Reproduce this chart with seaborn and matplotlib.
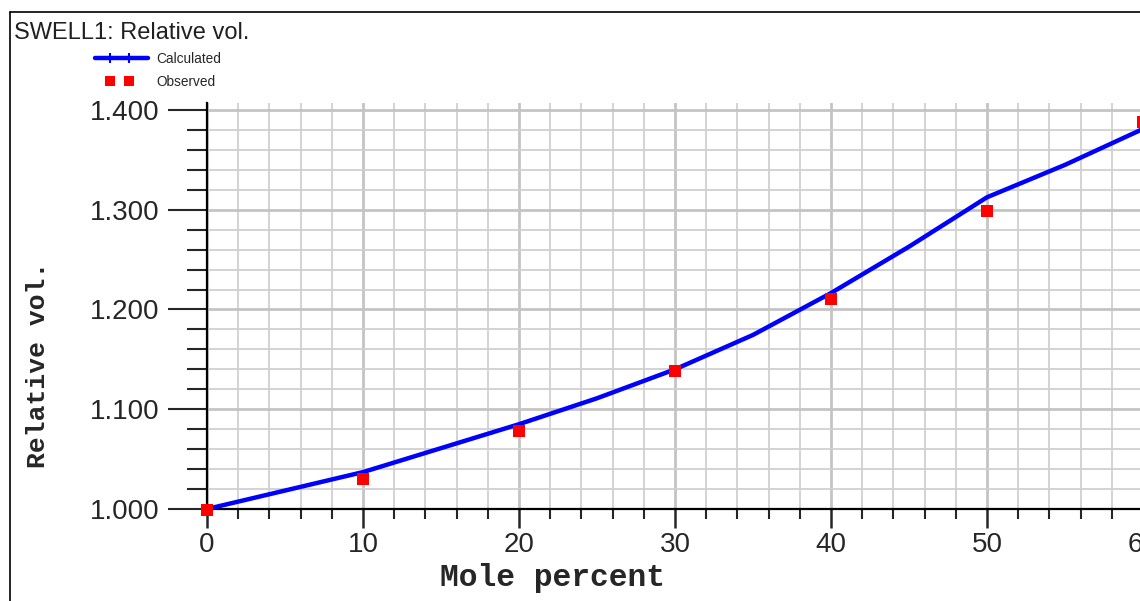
import numpy as np
import pandas as pd
import matplotlib
matplotlib.use("Agg")
import matplotlib.pyplot as plt
from matplotlib.lines import Line2D
from matplotlib.ticker import MultipleLocator, FormatStrFormatter
from matplotlib.legend_handler import HandlerLine2D
import seaborn as sns

# ---- data ----
title = "SWELL1: Relative vol."
calc_x = [0, 10, 20, 25, 30, 35, 40, 45, 50, 55, 60]
calc_y = [1.000, 1.037, 1.085, 1.111, 1.140, 1.1745, 1.2165, 1.263, 1.3125, 1.345, 1.381]
obs_x = [0, 10, 20, 30, 40, 50, 60]
obs_y = [0.999, 1.030, 1.078, 1.138, 1.211, 1.299, 1.388]
x_label = "Mole percent"
y_label = "Relative vol."

sns.set_style("white")
plt.rcParams['font.family'] = ['Liberation Sans', 'DejaVu Sans']

W, H = 1140, 601
fig = plt.figure(figsize=(W / 100, H / 100), dpi=100)
left, right, bottom, top = 207, 1143, 509, 103
ax = fig.add_axes([left / W, (H - bottom) / H, (right - left) / W, (bottom - top) / H])
ax.set_facecolor("white")

calc = pd.DataFrame({"x": calc_x, "y": calc_y})
obs = pd.DataFrame({"x": obs_x, "y": obs_y})

sns.lineplot(data=calc, x="x", y="y", ax=ax, color="#0000ff", lw=3.2,
             label="Calculated", zorder=3)
sns.lineplot(data=obs, x="x", y="y", ax=ax, color="#ff0000", linestyle="none",
             marker="s", markersize=8.7, markeredgewidth=0, markerfacecolor="#ff0000",
             label="Observed", zorder=4, clip_on=False)

ax.set_xlim(0, 60)
ax.set_ylim(1.0, 1.0 + (bottom - top) / 997.5)

ax.xaxis.set_major_locator(MultipleLocator(10))
ax.xaxis.set_minor_locator(MultipleLocator(2))
ax.yaxis.set_major_locator(MultipleLocator(0.1))
ax.yaxis.set_minor_locator(MultipleLocator(0.02))
ax.yaxis.set_major_formatter(FormatStrFormatter("%.3f"))

ax.grid(which="minor", color="#d0d0d0", lw=1.3, zorder=0)
ax.grid(which="major", color="#c4c4c4", lw=2.0, zorder=0)
ax.set_axisbelow(True)

for s in ["top", "right"]:
    ax.spines[s].set_visible(False)
for s in ["left", "bottom"]:
    ax.spines[s].set_linewidth(1.6)
    ax.spines[s].set_color("black")

ax.tick_params(axis="y", which="major", direction="out", length=28, width=1.5,
               labelsize=20, pad=6, left=True)
ax.tick_params(axis="y", which="minor", direction="out", length=14.5, width=1.5, left=True)
ax.tick_params(axis="x", which="major", direction="out", length=13.5, width=1.8,
               labelsize=20, pad=3, bottom=True)
ax.tick_params(axis="x", which="minor", direction="out", length=7, width=1.5, bottom=True)

ax.set_xlabel("")
ax.set_ylabel("")
lab_font = dict(family=["Liberation Mono", "DejaVu Sans Mono"], weight="bold")
fig.text(553 / W, 1 - 578 / H, x_label, ha="center", va="center", fontsize=22.5, **lab_font)
fig.text(38 / W, 1 - 365 / H, y_label, ha="center", va="center", rotation=90,
         fontsize=19, **lab_font)

fig.text(14 / W, 1 - 33 / H, title, ha="left", va="center", fontsize=17,
         color="#202020")


class PaddedMarkerHandler(HandlerLine2D):
    """Full-length line with two markers set in from the ends."""
    def create_artists(self, legend, orig_handle, xdescent, ydescent, width,
                       height, fontsize, trans):
        pad = 1.1 * fontsize
        x0 = -xdescent
        x1 = -xdescent + width
        xdata = [x0, x0 + pad, x1 - pad * 1.25, x1]
        ydata = np.full(4, (height - ydescent) / 2)
        legline = Line2D(xdata, ydata, markevery=[1, 2])
        self.update_prop(legline, orig_handle, legend)
        legline.set_transform(trans)
        return [legline]


# legend
leg_fs = 9.8
leg = ax.legend(loc="upper left", bbox_to_anchor=(95 / W, 1 - 52 / H),
                bbox_transform=fig.transFigure, frameon=False, fontsize=leg_fs,
                handlelength=3.9, handletextpad=0.6,
                labelspacing=0.65, borderaxespad=0, borderpad=0,
                handler_map={Line2D: PaddedMarkerHandler()})
for h in leg.legend_handles:
    if h.get_marker() == "s":
        h.set_markersize(7.5)
    else:
        h.set_marker("|")
        h.set_markersize(7)
        h.set_markeredgewidth(1.5)
        h.set_markeredgecolor("#0000ff")

# frame border
fig.add_artist(Line2D([10.5 / W, 10.5 / W], [0, 1 - 12 / H], color="black", lw=1.2,
                      transform=fig.transFigure))
fig.add_artist(Line2D([10.5 / W, 1.0], [1 - 12 / H, 1 - 12 / H], color="black", lw=1.2,
                      transform=fig.transFigure))

fig.savefig("out.png", dpi=100, facecolor="white")
